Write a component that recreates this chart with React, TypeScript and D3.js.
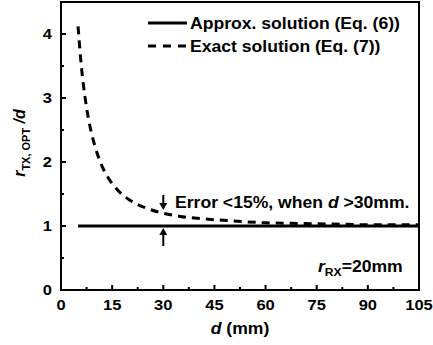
import React from "react";
import * as d3 from "d3";

const width = 433;
const height = 345;
const margin = { top: 2, right: 14, bottom: 55, left: 61 };
const plotW = width - margin.left - margin.right;
const plotH = height - margin.top - margin.bottom;

// distance d (mm) and normalized optimal TX radius
const dValues = [5, 6, 7, 8, 9, 10, 12, 14, 16, 18, 20, 25, 30, 35, 40, 50, 60, 70, 80, 90, 100, 105];
const exactValues = [4.12, 3.48, 3.03, 2.69, 2.44, 2.24, 1.94, 1.74, 1.6, 1.49, 1.41, 1.28, 1.2, 1.15, 1.12, 1.08, 1.05, 1.04, 1.03, 1.02, 1.02, 1.02];
const approxD = [5, 105];
const approxValues = [1, 1];

const xTicks = [0, 15, 30, 45, 60, 75, 90, 105];
const xMinorTicks = [7.5, 22.5, 37.5, 52.5, 67.5, 82.5, 97.5];
const yTicks = [0, 1, 2, 3, 4];
const yMinorTicks = [0.5, 1.5, 2.5, 3.5];

const font = "'Liberation Sans', Arial, sans-serif";
const SX = 1.1; // the reference text is a little wider than plain Arial

function T({ x, y, size, anchor = "start", children }: any) {
  return (
    <g transform={`translate(${x},${y}) scale(${SX},1)`}>
      <text x={0} y={0} fontSize={size} textAnchor={anchor}>
        {children}
      </text>
    </g>
  );
}

export default function App() {
  const x = d3.scaleLinear().domain([0, 105]).range([0, plotW]);
  const y = d3.scaleLinear().domain([0, 4.5]).range([plotH, 0]);

  const exactPath = d3
    .line<number>()
    .x((_, i) => x(dValues[i]))
    .y(v => y(v))
    .curve(d3.curveMonotoneX)(exactValues);
  const approxPath = d3
    .line<number>()
    .x((_, i) => x(approxD[i]))
    .y(v => y(v))(approxValues);

  const arrowX = x(30);

  return (
    <svg
      width={width}
      height={height}
      style={{ position: "absolute", left: 0, top: 0, background: "#fff" }}
      fontFamily={font}
      fontWeight="bold"
    >
      <g transform={`translate(${margin.left},${margin.top})`}>
        {/* curves */}
        <path d={approxPath ?? ""} fill="none" stroke="#000" strokeWidth={3} />
        <path d={exactPath ?? ""} fill="none" stroke="#000" strokeWidth={3} strokeDasharray="8,6" />

        {/* frame */}
        <rect x={0} y={0} width={plotW} height={plotH} fill="none" stroke="#000" strokeWidth={2} />

        {/* x ticks */}
        {xTicks.map(t => (
          <g key={"xt" + t}>
            <line x1={x(t)} x2={x(t)} y1={plotH} y2={plotH - 5} stroke="#000" strokeWidth={2} />
            <T x={x(t)} y={plotH + 20} size={15} anchor="middle">
              {t}
            </T>
          </g>
        ))}
        {xMinorTicks.map(t => (
          <line key={"xm" + t} x1={x(t)} x2={x(t)} y1={plotH} y2={plotH - 3} stroke="#000" strokeWidth={2} />
        ))}

        {/* y ticks */}
        {yTicks.map(t => (
          <g key={"yt" + t}>
            <line x1={0} x2={5} y1={y(t)} y2={y(t)} stroke="#000" strokeWidth={2} />
            <T x={-9} y={y(t) + 5} size={15} anchor="end">
              {t}
            </T>
          </g>
        ))}
        {yMinorTicks.map(t => (
          <line key={"ym" + t} x1={0} x2={3} y1={y(t)} y2={y(t)} stroke="#000" strokeWidth={2} />
        ))}

        {/* legend */}
        <line x1={87} x2={126} y1={21} y2={21} stroke="#000" strokeWidth={3} />
        <T x={129} y={27} size={16}>Approx. solution (Eq. (6))</T>
        <line x1={87} x2={126} y1={44} y2={44} stroke="#000" strokeWidth={3} strokeDasharray="8,7" />
        <T x={129} y={50} size={16}>Exact solution (Eq. (7))</T>

        {/* error annotation */}
        <line x1={arrowX} x2={arrowX} y1={193} y2={205} stroke="#000" strokeWidth={2} />
        <path d={`M${arrowX - 4},${201} L${arrowX + 4},${201} L${arrowX},${208} Z`} fill="#000" />
        <line x1={arrowX} x2={arrowX} y1={231} y2={244} stroke="#000" strokeWidth={2} />
        <path d={`M${arrowX - 4},${233} L${arrowX + 4},${233} L${arrowX},${226} Z`} fill="#000" />
        <T x={114} y={206} size={16}>
          Error &lt;15%, when <tspan fontStyle="italic">d</tspan> &gt;30mm.
        </T>

        <T x={257} y={270} size={16}>
          <tspan fontStyle="italic">r</tspan>
          <tspan fontSize={11} dy={4}>RX</tspan>
          <tspan dy={-4}>=20mm</tspan>
        </T>
      </g>

      {/* axis titles */}
      <T x={margin.left + plotW / 2} y={334} size={16} anchor="middle">
        <tspan fontStyle="italic">d</tspan> (mm)
      </T>
      <text transform="rotate(-90)" x={-143} y={25} textAnchor="middle" fontSize={16}>
        <tspan fontStyle="italic">r</tspan>
        <tspan fontSize={11} dy={5}>TX, OPT</tspan>
        <tspan dy={-5} fontStyle="italic"> /d</tspan>
      </text>
    </svg>
  );
}
